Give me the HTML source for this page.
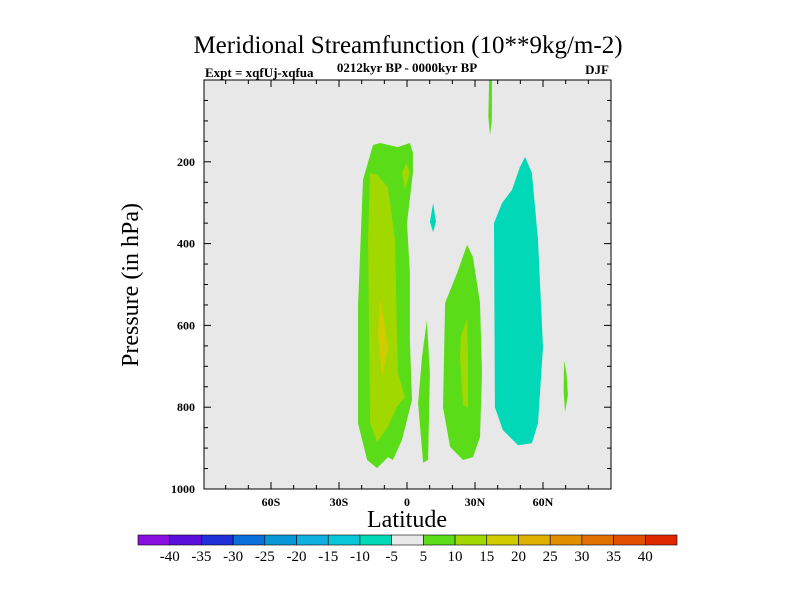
<!DOCTYPE html>
<html><head><meta charset="utf-8"><style>
body{margin:0;background:#fff;}
svg{display:block;font-family:"Liberation Serif",serif;}
</style></head><body>
<svg id="chart" width="800" height="600" viewBox="0 0 800 600">
<text x="408" y="53" text-anchor="middle" font-size="25">Meridional Streamfunction (10**9kg/m-2)</text>
<text x="205" y="77" font-size="13" font-weight="bold">Expt = xqfUj-xqfua</text>
<text x="407" y="72" text-anchor="middle" font-size="13" font-weight="bold">0212kyr BP - 0000kyr BP</text>
<text x="609" y="74" text-anchor="end" font-size="13" font-weight="bold">DJF</text>
<rect x="204" y="80" width="407" height="409" fill="#e8e8e8"/>
<g id="contours"></g>
<rect x="204" y="80" width="407" height="409" fill="none" stroke="#000" stroke-width="1"/>
<g id="axes"></g>
<text x="407" y="527" text-anchor="middle" font-size="24">Latitude</text>
<text transform="translate(138,285) rotate(-90)" text-anchor="middle" font-size="24">Pressure (in hPa)</text>
<g id="colorbar"></g>
</svg>
<script>
const xTickLabels=["60S","30S","0","30N","60N"];
const xTickValues=[-60,-30,0,30,60];
const yTickValues=[200,400,600,800,1000];
const cbLabels=["-40","-35","-30","-25","-20","-15","-10","-5","5","10","15","20","25","30","35","40"];
const cbColors=["#8a10e0","#5a10d8","#2030d8","#0870d8","#0898d8","#10b0e0","#08c8d8","#00d8b8","#e8e8e8","#5adc18","#a0d800","#d0cc00","#e0b000","#e09000","#e07000","#e05000","#e02800"];
const greenOuter=[[-15,159],[-11.9,154],[-4,164],[1.3,154],[2.6,178],[2.6,227],[0,350],[1.3,472],[1.3,636],[2.2,782],[-2.2,880],[-6.2,929],[-8.4,922],[-13.2,949],[-17.6,929],[-21.6,839],[-21.6,555],[-19.4,244]];
const ygInner=[[-13.2,232],[-8.4,262],[-5.3,391],[-4,717],[-0.9,775],[-4.4,799],[-8.4,848],[-13.2,885],[-16.3,839],[-17.2,391],[-16.3,227]];
const ygTop=[[-2.2,227],[-0.4,203],[1.3,225],[-0.9,269]];
const yellowCore=[[-11.9,531],[-8.4,653],[-11,726],[-12.8,621]];
const greenNarrow=[[8.8,587],[10.1,716],[9.3,929],[7.1,936],[4.9,790],[6.6,677]];
const greenMid=[[26.5,403],[29.1,433],[32.2,545],[33.1,716],[32.2,873],[29.1,922],[24.7,929],[19,897],[15.9,800],[16.8,545],[22.1,472]];
const ygMid=[[26.5,582],[26.9,677],[26.9,800],[24.7,795],[23.4,677],[23.8,628]];
const cyanBig=[[52.1,188],[55.1,227],[57.8,391],[60,653],[57.8,839],[55.1,888],[49,893],[42.3,856],[38.8,800],[38.4,350],[41.9,301],[46.3,269],[49.8,213]];
const cyanSmall=[[11.5,301],[12.8,347],[11.5,372],[10.1,347]];
const greenNH=[[69.3,685],[70.4,720],[71,770],[69.7,812],[69.1,760]];
const greenTop=[[36.2,0],[37.5,0],[37.4,100],[36.6,135],[35.9,90]];

const X=lat=>407+lat*(68/30);
const Y=p=>80+p*0.409;
const NS="http://www.w3.org/2000/svg";
const cg=document.getElementById('contours');
function poly(pts,fill,name){
  const e=document.createElementNS(NS,'polygon');
  e.setAttribute('points',pts.map(q=>X(q[0]).toFixed(1)+','+Y(q[1]).toFixed(1)).join(' '));
  e.setAttribute('fill',fill);
  
  
  cg.appendChild(e);
}
poly(greenOuter,"#5adc18","contour-5-10-south");
poly(ygInner,"#a0d800","contour-10-15-south");
poly(ygTop,"#a0d800","contour-10-15-upper");
poly(yellowCore,"#d0cc00","contour-15-20-core");
poly(greenNarrow,"#5adc18","contour-5-10-equator");
poly(greenMid,"#5adc18","contour-5-10-north");
poly(ygMid,"#a0d800","contour-10-15-north");
poly(cyanBig,"#00d8b8","contour-neg-5-10-north");
poly(cyanSmall,"#00d8b8","contour-neg-small");
poly(greenNH,"#5adc18","contour-5-10-70n");
poly(greenTop,"#5adc18","contour-5-10-top");

const ag=document.getElementById('axes');
function line(x1,y1,x2,y2,name){
  const e=document.createElementNS(NS,'line');
  e.setAttribute('x1',x1);e.setAttribute('y1',y1);e.setAttribute('x2',x2);e.setAttribute('y2',y2);
  e.setAttribute('stroke','#000');
  
  
  ag.appendChild(e);
}
function text(x,y,s,anchor,size,name){
  const e=document.createElementNS(NS,'text');
  e.setAttribute('x',x);e.setAttribute('y',y);e.setAttribute('text-anchor',anchor);e.setAttribute('font-size',size);
  e.setAttribute('font-weight','bold');
  e.textContent=s;
  
  
  ag.appendChild(e);
}
for(let lat=-80;lat<=80;lat+=10){
  const x=X(lat);const major=lat%30===0;const L=major?7:4;
  line(x,489,x,489-L,'x-tick');
  line(x,80,x,80+L,'x-tick-top');
}
xTickValues.forEach((v,i)=>text(X(v),506,xTickLabels[i],'middle',12,'x-tick-label'));
for(let p=50;p<1000;p+=50){
  const y=Y(p);const major=p%200===0;const L=major?7:4;
  line(204,y,204+L,y,'y-tick');
  line(611,y,611-L,y,'y-tick-right');
}
yTickValues.forEach(v=>text(195,Y(v)+4,String(v),'end',12,'y-tick-label'));

const cb=document.getElementById('colorbar');
const bx=138,bw=539/cbColors.length;
cbColors.forEach((c,i)=>{
  const r=document.createElementNS(NS,'rect');
  r.setAttribute('x',bx+i*bw);r.setAttribute('y',535);r.setAttribute('width',bw);r.setAttribute('height',10);
  r.setAttribute('fill',c);r.setAttribute('stroke','#000');r.setAttribute('stroke-width','0.6');
  
  
  cb.appendChild(r);
});
cbLabels.forEach((s,i)=>{
  const e=document.createElementNS(NS,'text');
  e.setAttribute('x',bx+(i+1)*bw);e.setAttribute('y',561);e.setAttribute('text-anchor','middle');e.setAttribute('font-size',15);
  e.textContent=s;
  
  
  cb.appendChild(e);
});
</script>
</body></html>
